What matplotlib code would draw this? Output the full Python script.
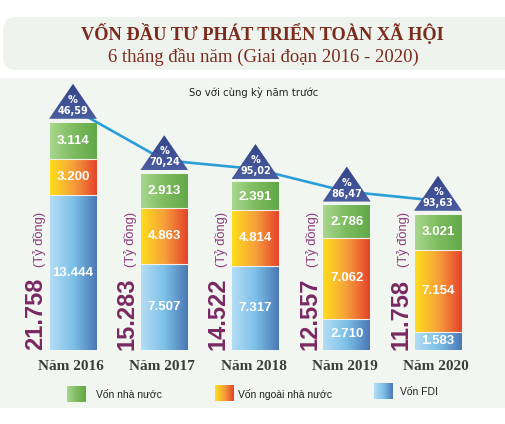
import numpy as np
import matplotlib
matplotlib.use("Agg")
import matplotlib.pyplot as plt
from matplotlib.colors import LinearSegmentedColormap
from matplotlib.patches import Polygon, Rectangle, FancyBboxPatch

# data (ty dong)
years = ["Năm 2016", "Năm 2017", "Năm 2018", "Năm 2019", "Năm 2020"]
von_nha_nuoc = [3114, 2913, 2391, 2786, 3021]
von_ngoai_nha_nuoc = [3200, 4863, 4814, 7062, 7154]
von_fdi = [13444, 7507, 7317, 2710, 1583]
tong_von = [21758, 15283, 14522, 12557, 11758]
tang_truong = ["46,59", "70,24", "95,02", "86,47", "93,63"]

W, H = 505, 424
X0, PXX = 73, 91.25        # px of first bar centre, px per bar step
Y0, PXY = 350, 0.0115      # px of bar bottom, px per ty dong


def px2x(px):
    return (px - X0) / PXX


def px2y(py):
    return (Y0 - py) / PXY


def dx(px):
    return px / PXX


def dy(px):
    return px / PXY


def grad(ax, colors, extent, horizontal=True, clip=None, z=2):
    cmap = LinearSegmentedColormap.from_list("g", colors)
    g = np.linspace(0, 1, 64)
    g = g[None, :] if horizontal else g[:, None]
    im = ax.imshow(g, cmap=cmap, extent=extent, aspect="auto",
                   origin="lower", interpolation="bilinear", zorder=z)
    if clip is not None:
        im.set_clip_path(clip)
    return im


fig = plt.figure(figsize=(W / 100, H / 100), dpi=100)
ax = fig.add_axes([0, 0, 1, 1])
ax.axis("off")

# background panels
ax.add_patch(FancyBboxPatch((px2x(3), px2y(70)), dx(520), dy(53),
                            boxstyle="round,pad=0,rounding_size=0.15",
                            mutation_aspect=dy(1) / dx(1),
                            fc="#eef3ed", ec="none", zorder=0))
ax.add_patch(Rectangle((px2x(0), px2y(408)), dx(W), dy(330),
                       fc="#f2f6f1", ec="none", zorder=0))

blue = ["#b3ddf4", "#7cc0e8", "#4b78b5"]
orange = ["#fedd1c", "#f6a03a", "#e6432b"]
green = ["#a8d78e", "#7dbb5f", "#62a94a"]
navy = ["#4a5d9f", "#34448a"]

bw = dx(47)
tri_pts = []
for i in range(len(years)):
    left = i - bw / 2
    b0 = 0
    for vals, cols in ((von_fdi, blue), (von_ngoai_nha_nuoc, orange),
                       (von_nha_nuoc, green)):
        v = vals[i]
        grad(ax, cols, [left, left + bw, b0, b0 + v])
        ax.text(i, b0 + v / 2, f"{v:,}".replace(",", "."), color="white",
                fontsize=9.5, fontweight="bold", family="Liberation Sans",
                ha="center", va="center", zorder=4)
        if b0 > 0:
            ax.plot([left, left + bw], [b0, b0], color="#f4f0e8", lw=0.8,
                    zorder=3)
        b0 += v
    top = b0

    # triangle with growth rate
    base = top + dy(4)
    tri = Polygon([(i - dx(24), base), (i + dx(24), base), (i, base + dy(35))],
                  closed=True, fc="none", ec="none", zorder=5)
    ax.add_patch(tri)
    grad(ax, navy, [i - dx(24), i + dx(24), base, base + dy(35)],
         horizontal=False, clip=tri, z=5)
    ax.text(i, base + dy(19), "%", color="white", fontsize=7,
            fontweight="bold", ha="center", va="center", zorder=6)
    ax.text(i, base + dy(8), tang_truong[i], color="white", fontsize=7,
            fontweight="bold", ha="center", va="center", zorder=6)
    tri_pts.append((i, base + dy(10)))

    # total, rotated
    ax.text(i - dx(37), 0, f"{tong_von[i]:,}".replace(",", "."),
            color="#7a2862", fontsize=17, fontweight="bold",
            family="Liberation Sans", rotation=90, ha="center", va="bottom")
    ax.text(i - dx(34), dy(83), "(Tỷ đồng)", color="#8c3b7c", fontsize=9.3,
            family="Liberation Sans", rotation=90, ha="center", va="bottom")

    ax.text(i - dx(2), px2y(367), years[i], color="#3c3c3c", fontsize=11,
            fontweight="bold", family="Liberation Serif",
            ha="center", va="center")

lx, ly = zip(*tri_pts)
ax.plot(lx, ly, color="#2a9ed8", lw=1.9, zorder=1.5, solid_capstyle="round")

# titles
ax.text(px2x(262), px2y(33), "VỐN ĐẦU TƯ PHÁT TRIỂN TOÀN XÃ HỘI",
        color="#7a2b1d", fontsize=13.2, fontweight="bold",
        family="Liberation Serif", ha="center", va="center")
ax.text(px2x(263), px2y(57), "6 tháng đầu năm (Giai đoạn 2016 - 2020)",
        color="#7a2b1d", fontsize=13.5, family="Liberation Serif",
        ha="center", va="center")
ax.text(px2x(254), px2y(92), "So với cùng kỳ năm trước", color="#222222",
        fontsize=7.3, ha="center", va="center")

# legend
legend = [("Vốn nhà nước", green, 67, 386, 96),
          ("Vốn ngoài nhà nước", orange, 215, 385, 238),
          ("Vốn FDI", blue, 374, 383, 400)]
for label, cols, sx, sy, tx in legend:
    grad(ax, cols, [px2x(sx), px2x(sx + 19), px2y(sy + 16), px2y(sy)])
    ax.text(px2x(tx), px2y(sy + 9), label, color="#222222", fontsize=7.5,
            family="Liberation Sans", ha="left", va="center")

ax.set_xlim(px2x(0), px2x(W))
ax.set_ylim(px2y(H), px2y(0))

fig.savefig("out.png", dpi=100)
plt.close()
